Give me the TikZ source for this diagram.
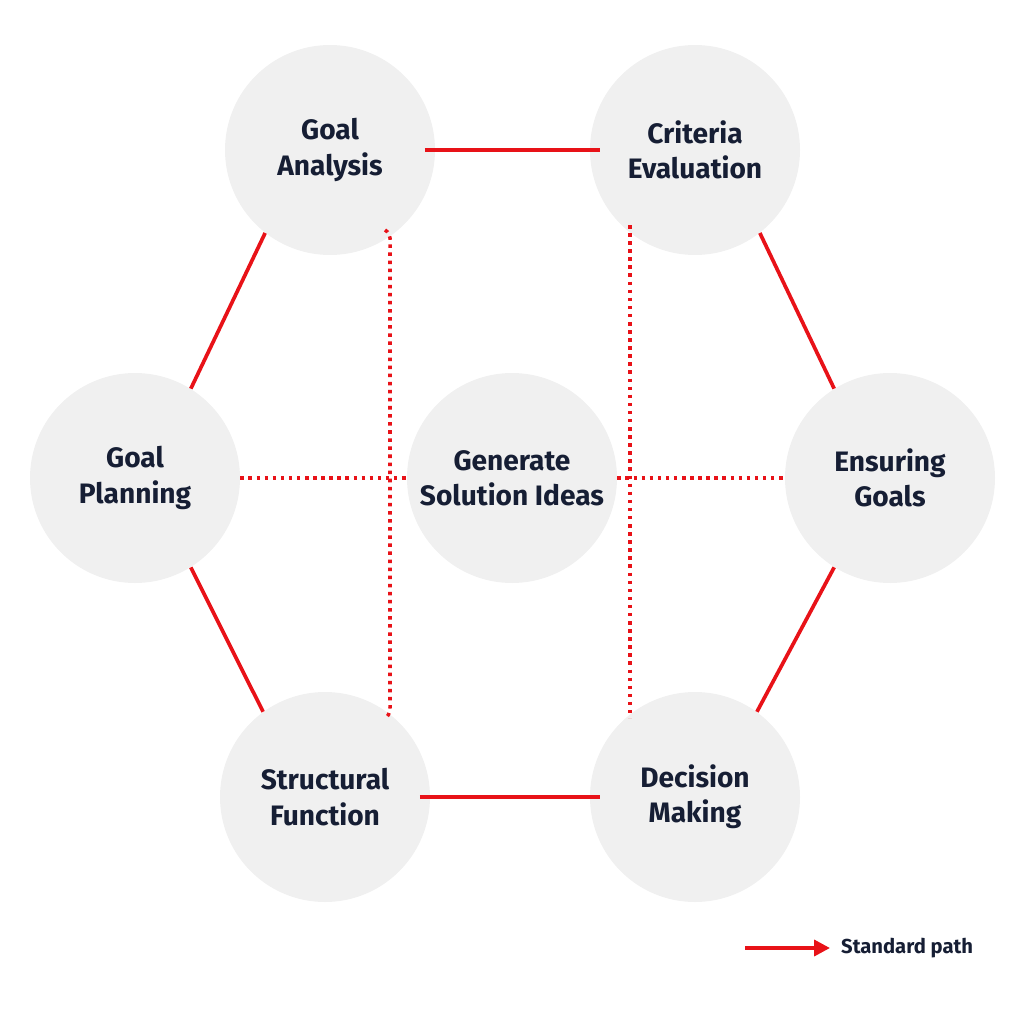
\documentclass[tikz,border=0pt]{standalone}
\usepackage{fontspec}
\setmainfont{Fira Sans}
\usetikzlibrary{arrows.meta}
\definecolor{bg1}{RGB}{240,240,240}
\definecolor{l1}{RGB}{232,18,24}
\definecolor{t1}{RGB}{22,30,52}

\begin{document}
\begin{tikzpicture}[
    x=0.02cm, y=-0.02cm,
    font=\bfseries\fontsize{16}{20}\selectfont,
    l/.style={
        line width=2.1pt,
        color=l1
    },
    d/.style={
        line width=2pt, color=l1,
        dash pattern=on 2pt off 2.6pt
    },
    c/.style={
        circle, minimum size=210*0.02cm, inner sep=0pt,
        fill=bg1, text=t1, align=center
    }
]
    \useasboundingbox (0,0) rectangle (1024,1024);

    \node [c] (GA) at (330, 150) {Goal\\Analysis};
    \node [c] (CE) at (695, 150) {Criteria\\Evaluation};
    \node [c] (GP) at (135, 478) {Goal\\Planning};
    \node [c] (GS) at (512, 478) {Generate\\Solution Ideas};
    \node [c] (EG) at (890, 478) {Ensuring\\Goals};
    \node [c] (SF) at (325, 797) {Structural\\Function};
    \node [c] (DM) at (695, 797) {Decision\\Making};

    \draw [l] ([xshift=-6pt]GA.east) -- ([xshift=6pt]CE.west);
    \draw [l] ([xshift=-6pt]SF.east) -- ([xshift=6pt]DM.west);
    \draw [l] (GA.-128) -- (GP.58);
    \draw [l] (CE.-52) -- (EG.122);
    \draw [l] (GP.-58) -- (SF.126);
    \draw [l] (EG.-122) -- (DM.54);

    \coordinate (a1) at (385, 230);
    \coordinate (a2) at (385, 718);
    \coordinate (b1) at (630, 225);
    \coordinate (b2) at (630, 718);
    \draw [d] (a1) to[out=-30, in=90] (390, 250) -- (390, 700) to[out=-90, in=30] (a2);
    \draw [d] (b1) -- (b2);
    \draw [d] (GP.east) -- (GS.west);
    \draw [d] (GS.east) -- (EG.west);

    \coordinate (k1) at (745, 948);
    \coordinate (k2) at (830, 948);
    \draw [l, -{Triangle[length=9pt, width=9pt]}] (k1) -- (k2);
    \node [anchor=west, text=t1, font=\fontsize{11.5}{14}\selectfont\bfseries] (key) at (835, 948) {Standard path};
\end{tikzpicture}
\end{document}
